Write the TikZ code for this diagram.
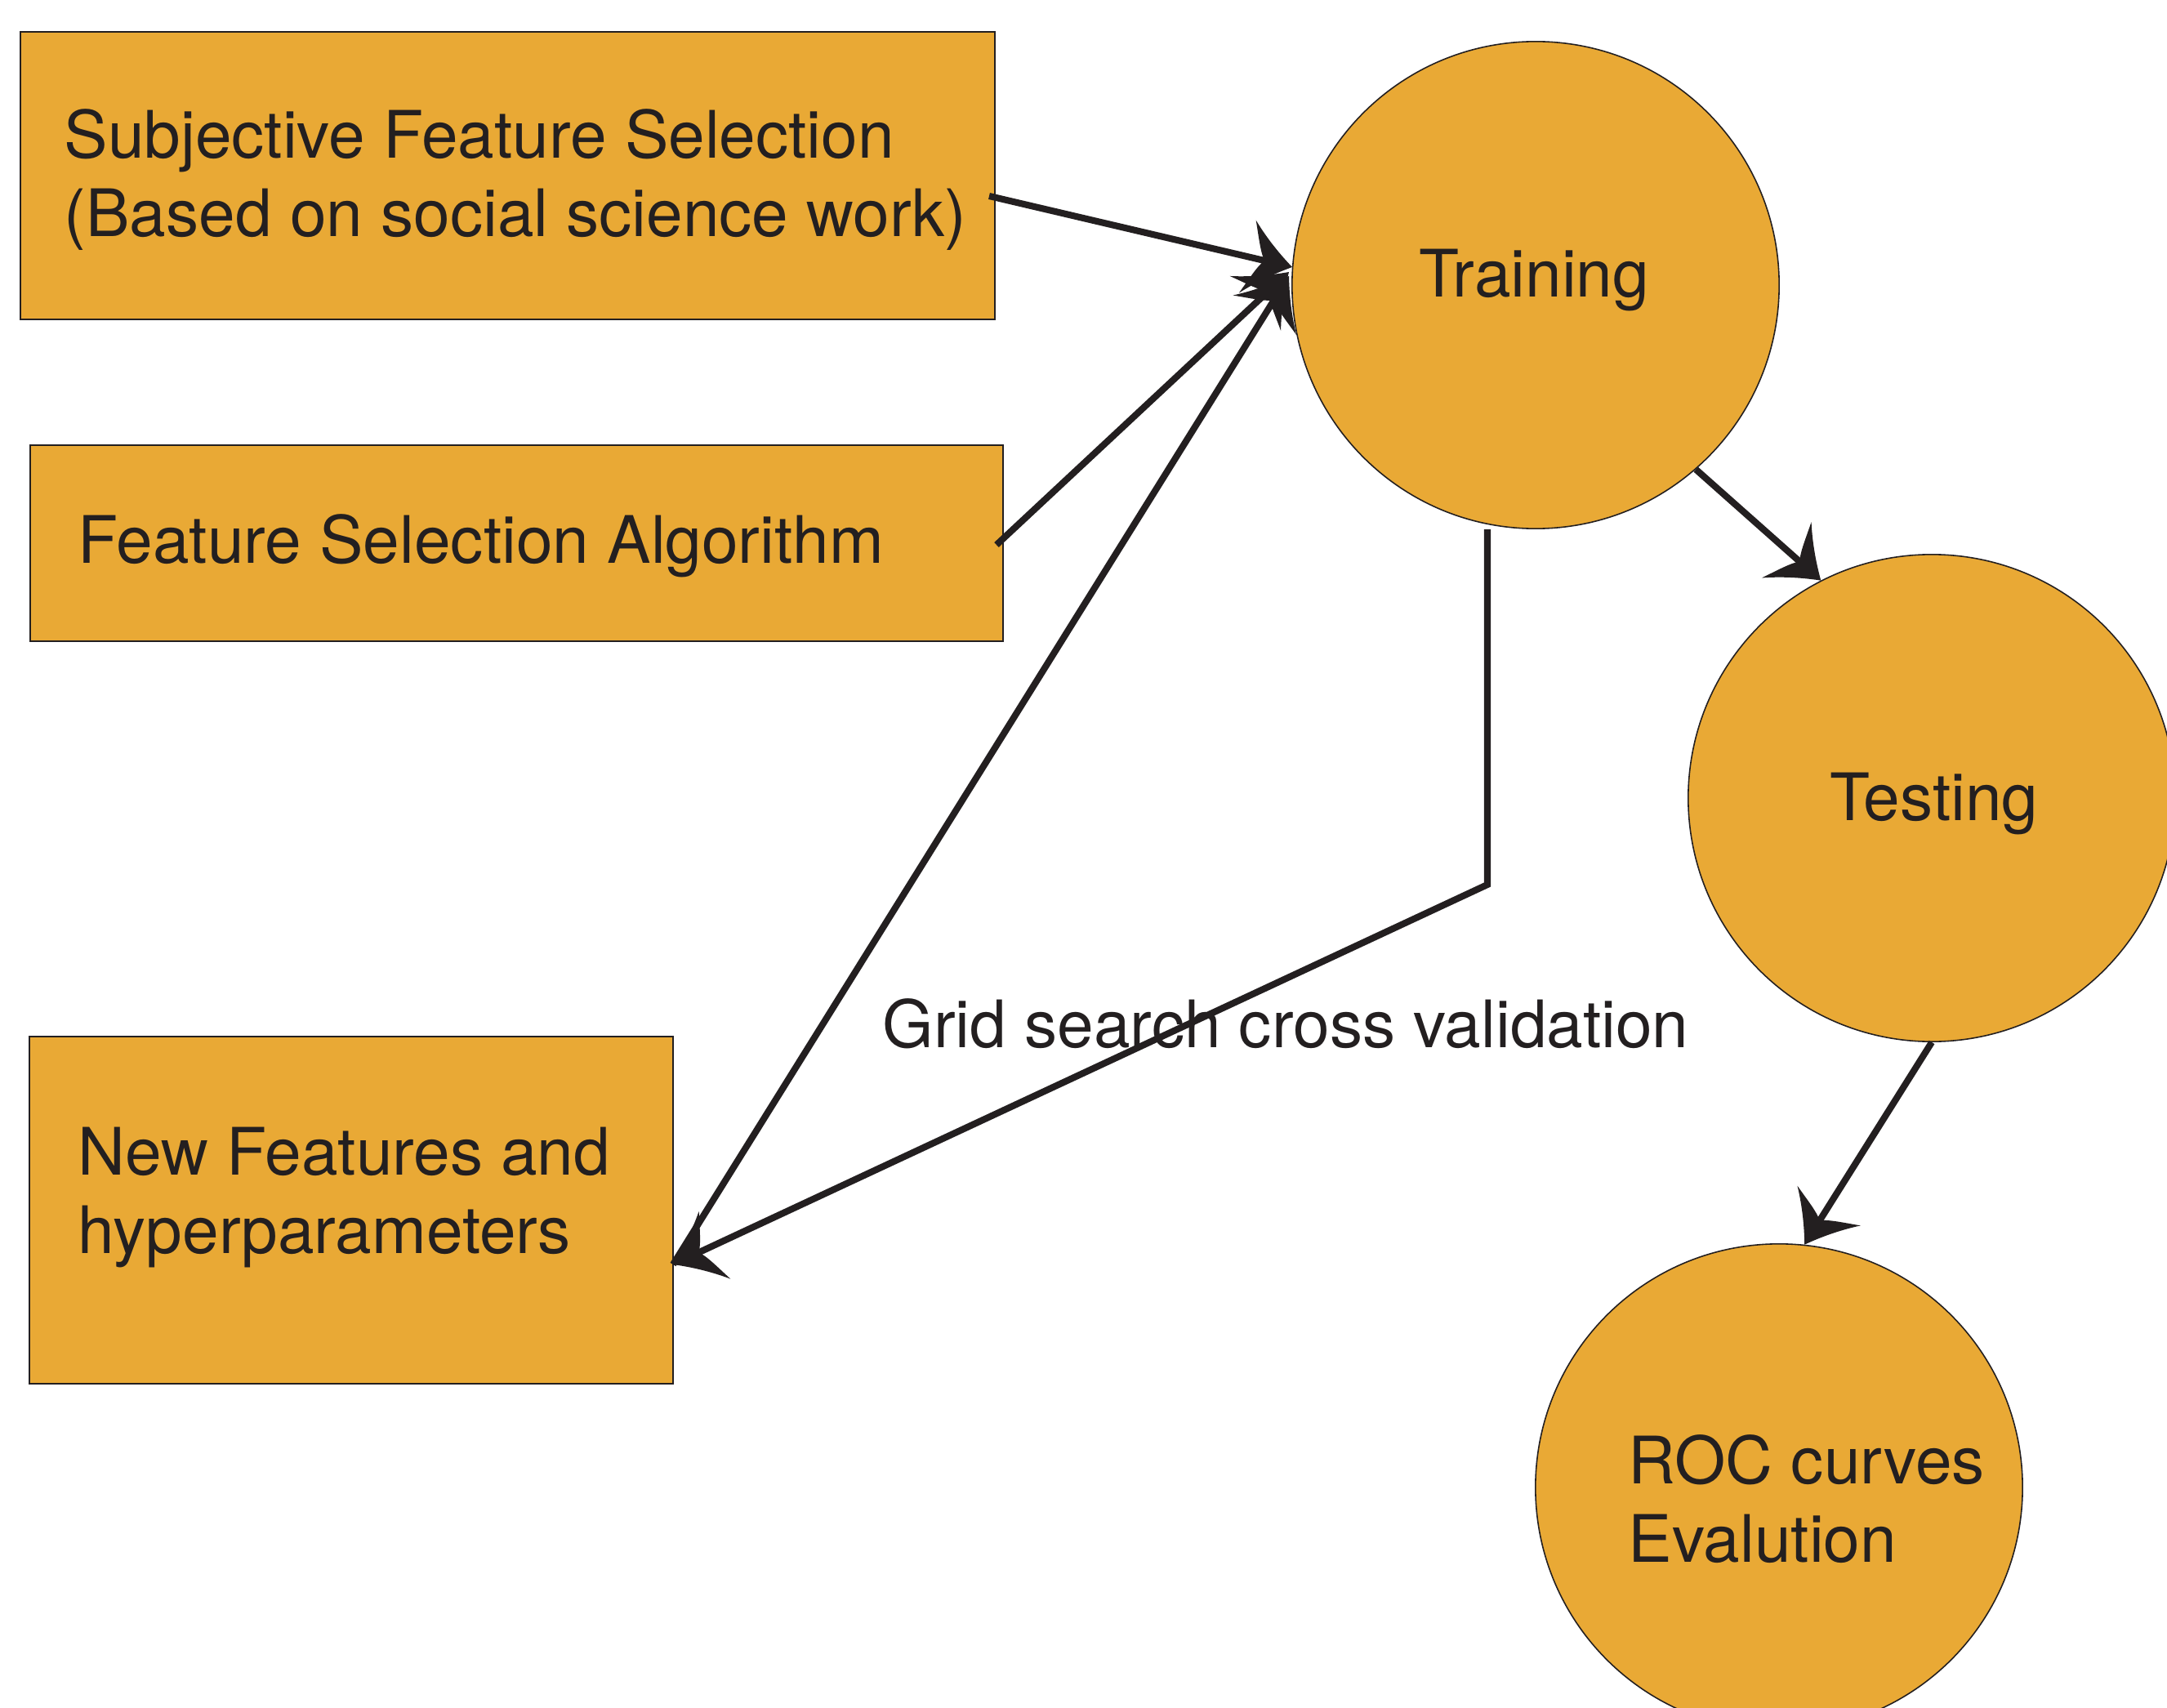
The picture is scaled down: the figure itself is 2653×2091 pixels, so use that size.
\documentclass[tikz,border=0pt]{standalone}
\usepackage{fontspec}
\setmainfont{TeX Gyre Heros}
\usetikzlibrary{arrows.meta}
\definecolor{boxfill}{RGB}{233,169,53}
\definecolor{ink}{RGB}{35,31,32}
\pgfdeclarearrow{
  name=Curvy,
  defaults={length=14pt, width=24pt},
  setup code={
    \pgfarrowssettipend{0pt}
    \pgfarrowssetbackend{-\pgfarrowlength}
    \pgfarrowssetlineend{-0.5\pgfarrowlength}
    \pgfarrowssavethe\pgfarrowlength
    \pgfarrowssavethe\pgfarrowwidth
  },
  drawing code={
    \pgfpathmoveto{\pgfpoint{0pt}{0pt}}
    \pgfpathcurveto{\pgfpoint{-0.3\pgfarrowlength}{0.12\pgfarrowwidth}}{\pgfpoint{-0.65\pgfarrowlength}{0.28\pgfarrowwidth}}{\pgfpoint{-\pgfarrowlength}{0.5\pgfarrowwidth}}
    \pgfpathcurveto{\pgfpoint{-0.85\pgfarrowlength}{0.28\pgfarrowwidth}}{\pgfpoint{-0.75\pgfarrowlength}{0.1\pgfarrowwidth}}{\pgfpoint{-0.62\pgfarrowlength}{0pt}}
    \pgfpathcurveto{\pgfpoint{-0.75\pgfarrowlength}{-0.1\pgfarrowwidth}}{\pgfpoint{-0.85\pgfarrowlength}{-0.28\pgfarrowwidth}}{\pgfpoint{-\pgfarrowlength}{-0.5\pgfarrowwidth}}
    \pgfpathcurveto{\pgfpoint{-0.65\pgfarrowlength}{-0.28\pgfarrowwidth}}{\pgfpoint{-0.3\pgfarrowlength}{-0.12\pgfarrowwidth}}{\pgfpoint{0pt}{0pt}}
    \pgfpathclose
    \pgfusepathqfill
  },
  parameters={\the\pgfarrowlength,\the\pgfarrowwidth}
}
\tikzset{
  fbox/.style={draw=ink, line width=0.45pt, fill=boxfill, inner sep=0pt},
  fcirc/.style={circle, draw=ink, line width=0.45pt, fill=boxfill, minimum size=5.96cm, inner sep=0pt},
  lbl/.style={text=ink, inner sep=0pt, align=left, font=\fontsize{22.8}{27.3}\selectfont},
  conn/.style={draw=ink, line width=2.3pt, -{Curvy[length=16pt,width=26pt]}}
}
\begin{document}
\begin{tikzpicture}[x=0.01cm,y=-0.01cm]
\useasboundingbox (0,0) rectangle (2653,2091);
% boxes
\path[fbox] (25,39) rectangle (1218,391) coordinate[pos=0.5] (b1);
\path[fbox] (37,545) rectangle (1228,785) coordinate[pos=0.5] (b2);
\path[fbox] (36,1269) rectangle (824,1694) coordinate[pos=0.5] (b3);
\node[lbl, anchor=west] (t1) at (78,220) {Subjective Feature Selection\\(Based on social science work)};
\node[lbl, anchor=west] (t2) at (95,668) {Feature Selection Algorithm};
\node[lbl, anchor=west] (t3) at (95,1466) {New Features and\\hyperparameters};
% circles
\node[fcirc] (train) at (1880,349) {};
\node[fcirc] (test) at (2365,977) {};
\node[fcirc] (roc) at (2178,1821) {};
\node[lbl] (ttrain) at (1878,343) {Training};
\node[lbl] (ttest) at (2368,984) {Testing};
\node[lbl, anchor=west] (troc) at (1993,1835) {ROC curves\\Evalution};
\node[lbl, anchor=west] (tgrid) at (1080,1253) {Grid search cross validation};
% coordinates
\coordinate (s1) at (1211,240);
\coordinate (s2) at (1220,667);
\coordinate (b3p) at (824,1548);
\coordinate (g1) at (1821,648);
\coordinate (g2) at (1821,1083);
\coordinate (e1) at (1582,327);
\coordinate (e2) at (1578,333);
\coordinate (e3) at (1578,338);
% connectors
\draw[conn] (s1) -- (e1);
\draw[conn] (s2) -- (e2);
\draw[conn] (b3p) -- (e3);
\draw[conn] (train.-49) -- (test.117);
\draw[conn] (test.south) -- (roc.84);
\draw[conn] (g1) -- (g2) -- (b3p);
\end{tikzpicture}
\end{document}
